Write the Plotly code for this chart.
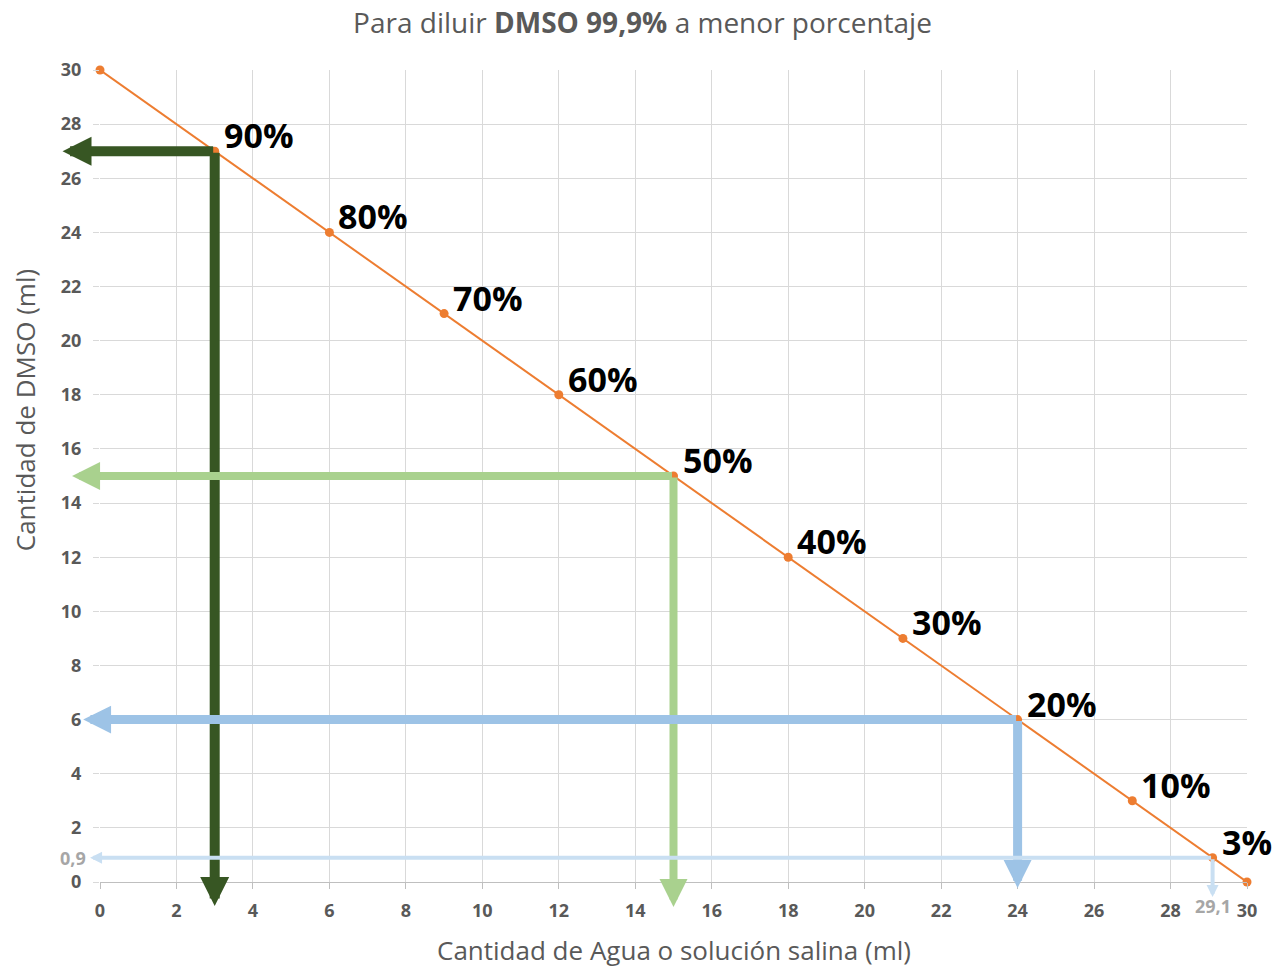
import plotly.graph_objects as go

# Data
water_ml = [0, 3, 6, 9, 12, 15, 18, 21, 24, 27, 29.1, 30]
dmso_ml = [30, 27, 24, 21, 18, 15, 12, 9, 6, 3, 0.9, 0]
pct_labels = ["", "90%", "80%", "70%", "60%", "50%", "40%", "30%", "20%", "10%", "3%", ""]

# Reading arrows (from a point on the line to the axes)
arrow_x = [3, 15, 24, 29.1]
arrow_y = [27, 15, 6, 0.9]
arrow_left_end = [-0.98, -0.73, -0.44, -0.26]
arrow_down_end = [-0.89, -0.92, -0.22, -0.55]
arrow_colors = ["#375623", "#a9d18e", "#9dc3e6", "#c9dff2"]
arrow_widths = [10, 8, 9, 4]
arrow_sizes = [0.58, 0.7, 0.62, 0.6]

tick_vals = list(range(0, 31, 2))

GRAY = "#595959"
FONT = "Open Sans"

fig = go.Figure()
fig.add_trace(go.Scatter(
    x=water_ml, y=dmso_ml, mode="lines+markers",
    line=dict(color="#ED7D31", width=2),
    marker=dict(color="#ED7D31", size=9),
    cliponaxis=False, showlegend=False, hoverinfo="skip",
))

annotations = []
for i in range(len(arrow_x)):
    common = dict(xref="x", yref="y", axref="x", ayref="y", text="",
                  showarrow=True, arrowhead=2, arrowcolor=arrow_colors[i],
                  arrowwidth=arrow_widths[i], arrowsize=arrow_sizes[i],
                  standoff=0, startstandoff=0)
    annotations.append(dict(x=arrow_left_end[i], y=arrow_y[i],
                            ax=arrow_x[i], ay=arrow_y[i], **common))
    annotations.append(dict(x=arrow_x[i], y=arrow_down_end[i],
                            ax=arrow_x[i], ay=arrow_y[i], **common))

for xv, yv, lab in zip(water_ml, dmso_ml, pct_labels):
    if lab:
        annotations.append(dict(x=xv, y=yv, xref="x", yref="y", text="<b>%s</b>" % lab,
                                showarrow=False, xanchor="left", yanchor="bottom",
                                xshift=7, yshift=-9,
                                font=dict(family=FONT, size=34, color="#000000")))

# special tick labels for the 3% point
annotations.append(dict(x=0, y=arrow_y[3], xref="x", yref="y", text="<b>0,9</b>",
                        showarrow=False, xanchor="right", yanchor="middle", xshift=-12,
                        font=dict(family=FONT, size=18, color="#a6a6a6")))
annotations.append(dict(x=arrow_x[3], y=0, xref="x", yref="y", text="<b>29,1</b>",
                        showarrow=False, xanchor="center", yanchor="top", yshift=-10,
                        font=dict(family=FONT, size=18, color="#a6a6a6")))

# axis titles placed as in the reference
annotations.append(dict(x=-0.0654, y=0.581, xref="paper", yref="paper",
                        text="Cantidad de DMSO (ml)", textangle=-90, showarrow=False,
                        xanchor="center", yanchor="middle",
                        font=dict(family=FONT, size=26, color=GRAY)))
annotations.append(dict(x=0.5, y=-0.0837, xref="paper", yref="paper",
                        text="Cantidad de Agua o solución salina (ml)", showarrow=False,
                        xanchor="center", yanchor="middle",
                        font=dict(family=FONT, size=26, color=GRAY)))

fig.update_layout(
    width=1285, height=968,
    margin=dict(l=100, r=38, t=70, b=86),
    paper_bgcolor="white", plot_bgcolor="white",
    title=dict(text="Para diluir <b>DMSO 99,9%</b> a menor porcentaje",
               x=0.5, xanchor="center", y=1 - 23 / 968, yanchor="middle",
               font=dict(family=FONT, size=28, color=GRAY)),
    annotations=annotations,
    font=dict(family=FONT, color=GRAY),
)
fig.update_xaxes(
    range=[0, 30], tickvals=tick_vals, ticktext=["<b>%d</b>" % v for v in tick_vals],
    showgrid=True, gridcolor="#d9d9d9", gridwidth=1, zeroline=False,
    showline=True, linecolor="#bfbfbf", linewidth=1, automargin=False,
    ticks="outside", ticklen=6, tickcolor="#bfbfbf", ticklabelstandoff=6,
    tickfont=dict(family=FONT, size=18, color=GRAY),
)
fig.update_yaxes(
    range=[0, 30], tickvals=tick_vals, ticktext=["<b>%d</b>" % v for v in tick_vals],
    showgrid=True, gridcolor="#d9d9d9", gridwidth=1, zeroline=False,
    showline=False, automargin=False,
    ticks="outside", ticklen=6, tickcolor="#d9d9d9", ticklabelstandoff=8,
    tickfont=dict(family=FONT, size=18, color=GRAY),
)

fig.write_html("out.html", config={"displayModeBar": False},
               post_script="document.body.style.margin='0';")
